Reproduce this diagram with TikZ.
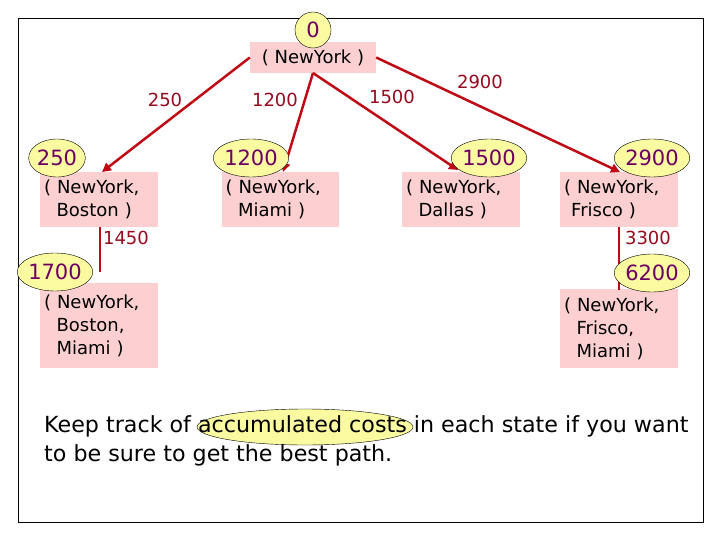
\documentclass[tikz,border=0pt]{standalone}
\usepackage{fontspec}
\setmainfont{DejaVu Sans}
\usetikzlibrary{arrows.meta,shapes.geometric}
\definecolor{pinkbox}{RGB}{252,208,208}
\definecolor{dred}{RGB}{190,10,20}
\definecolor{cyel}{RGB}{250,250,160}
\definecolor{purp}{RGB}{110,0,100}
\definecolor{lbl}{RGB}{150,10,30}
\tikzset{
 state/.style={fill=pinkbox,inner sep=0pt,align=left,font=\fontsize{18}{23}\selectfont},
 cost/.style={ellipse,draw=black,thin,fill=cyel,inner sep=0pt,text=purp,font=\fontsize{21}{22}\selectfont},
 edge/.style={draw=dred,line width=2.5pt,-{Triangle[length=9pt,width=9pt]}},
 lab/.style={text=lbl,font=\fontsize{18}{19}\selectfont}
}
\begin{document}
\begin{tikzpicture}[x=1pt,y=-1pt]
\useasboundingbox (0,0) rectangle (720,540);
\draw[black,thin] (18,18) rectangle (703,522);
\node[state,minimum width=126,minimum height=31,align=center] (r) at (313,57.5) {( NewYork )};
\node[state,minimum width=118,minimum height=55,text width=110] (b) at (99,199.5) {( NewYork,\\ \hspace*{0.7em}Boston )};
\node[state,minimum width=117,minimum height=55,text width=110] (m) at (280.5,199.5) {( NewYork,\\ \hspace*{0.7em}Miami )};
\node[state,minimum width=118,minimum height=55,text width=110] (d) at (461,199.5) {( NewYork,\\ \hspace*{0.7em}Dallas )};
\node[state,minimum width=118,minimum height=55,text width=110] (f) at (619,199.5) {( NewYork,\\ \hspace*{0.4em}Frisco )};
\node[state,minimum width=118,minimum height=85,text width=110] (bm) at (99,325.5) {( NewYork,\\ \hspace*{0.7em}Boston,\\ \hspace*{0.7em}Miami )};
\node[state,minimum width=118,minimum height=79,text width=110] (fm) at (619,328.5) {( NewYork,\\ \hspace*{0.7em}Frisco,\\ \hspace*{0.7em}Miami )};
\coordinate (rb) at (313,73);
\draw[edge] (r.west) -- (102,172);
\draw[edge] (rb) -- (283,172);
\draw[edge] (rb) -- (458,170);
\draw[edge] (r.east) -- (620,172);
\draw[dred,line width=2.5pt] (100,227) -- (100,272);
\draw[dred,line width=2.5pt] (619,227) -- (619,290);
\node[cost,minimum width=36,minimum height=36] (c0) at (313,30) {0};
\node[cost,minimum width=56,minimum height=38] (c1) at (57,158) {250};
\node[cost,minimum width=64,minimum height=38] (c2) at (251,158) {1200};
\node[cost,minimum width=64,minimum height=38] (c3) at (489,158) {1500};
\node[cost,minimum width=64,minimum height=38] (c4) at (652,158) {2900};
\node[cost,minimum width=64,minimum height=38] (c5) at (55,272) {1700};
\node[cost,minimum width=64,minimum height=38] (c6) at (652,273) {6200};
\node[lab] at (165,100) {250};
\node[lab] at (275,100) {1200};
\node[lab] at (392,97) {1500};
\node[lab] at (480,82) {2900};
\node[lab] at (126,238) {1450};
\node[lab] at (648,238) {3300};
\node[cost,minimum width=216,minimum height=36] (hl) at (305,427) {};
\node[anchor=north west,align=left,inner sep=0pt,font=\fontsize{22.2}{29}\selectfont,text=black] (t) at (44,415) {Keep track of accumulated costs in each state if you want\\to be sure to get the best path.};
\end{tikzpicture}
\end{document}
